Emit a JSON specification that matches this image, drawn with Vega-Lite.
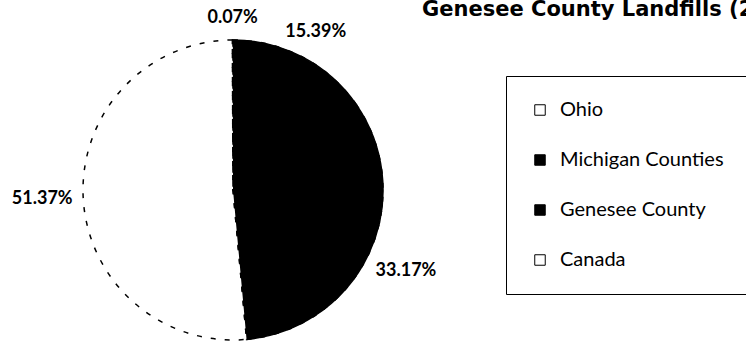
{
  "$schema": "https://vega.github.io/schema/vega-lite/v6.json",
  "autosize": "none",
  "width": 466,
  "height": 310,
  "padding": {"left": 0, "top": 35, "right": 280, "bottom": 0},
  "background": "white",
  "title": {
    "text": "Genesee County Landfills (2",
    "anchor": "start",
    "frame": "group",
    "dx": 422,
    "dy": 30,
    "font": "DejaVu Sans",
    "fontSize": 21,
    "fontWeight": "bold",
    "color": "black",
    "offset": 0
  },
  "data": {
    "values": [
      {"order": 1, "source": "Michigan Counties", "share": 0.1539},
      {"order": 2, "source": "Genesee County", "share": 0.3317},
      {"order": 3, "source": "Ohio", "share": 0.5137},
      {"order": 4, "source": "Canada", "share": 0.0007}
    ]
  },
  "encoding": {
    "theta": {"field": "share", "type": "quantitative", "stack": true},
    "order": {"field": "order", "type": "quantitative"}
  },
  "layer": [
    {
      "mark": {"type": "arc", "outerRadius": 150, "strokeWidth": 1.5},
      "encoding": {
        "stroke": {
          "condition": {"test": "datum.source === 'Michigan Counties' || datum.source === 'Genesee County'", "value": "black"},
          "value": null
        },
        "color": {
          "field": "source",
          "type": "nominal",
          "scale": {
            "domain": ["Ohio", "Michigan Counties", "Genesee County", "Canada"],
            "range": ["white", "black", "black", "white"]
          },
          "legend": {
            "orient": "none",
            "legendX": 506,
            "legendY": 41,
            "title": null,
            "strokeColor": "black",
            "padding": 24,
            "symbolType": "square",
            "symbolSize": 110,
            "symbolStrokeColor": "black",
            "symbolStrokeWidth": 1,
            "labelFont": "Lato",
            "labelFontSize": 20,
            "labelColor": "black",
            "labelOffset": 10,
            "rowPadding": 30,
            "labelLimit": 400
          }
        }
      }
    },
    {
      "mark": {"type": "arc", "outerRadius": 150, "fill": null, "fillOpacity": 0, "stroke": "black", "strokeWidth": 1.5, "strokeDash": [5, 9]},
      "encoding": {}
    },
    {
      "mark": {"type": "text", "radius": 191, "font": "Lato", "fontSize": 18, "fontWeight": "bold", "color": "black"},
      "encoding": {
        "text": {"field": "share", "type": "quantitative", "format": ".2%"},
        "opacity": {"condition": {"test": "datum.order === 2 || datum.order === 3", "value": 1}, "value": 0}
      }
    },
    {
      "mark": {"type": "text", "radius": 178, "font": "Lato", "fontSize": 18, "fontWeight": "bold", "color": "black"},
      "encoding": {
        "text": {"field": "share", "type": "quantitative", "format": ".2%"},
        "opacity": {"condition": {"test": "datum.order === 1", "value": 1}, "value": 0}
      }
    },
    {
      "mark": {"type": "text", "radius": 172, "font": "Lato", "fontSize": 18, "fontWeight": "bold", "color": "black"},
      "encoding": {
        "text": {"field": "share", "type": "quantitative", "format": ".2%"},
        "opacity": {"condition": {"test": "datum.order === 4", "value": 1}, "value": 0}
      }
    }
  ],
  "config": {"view": {"stroke": null}}
}
